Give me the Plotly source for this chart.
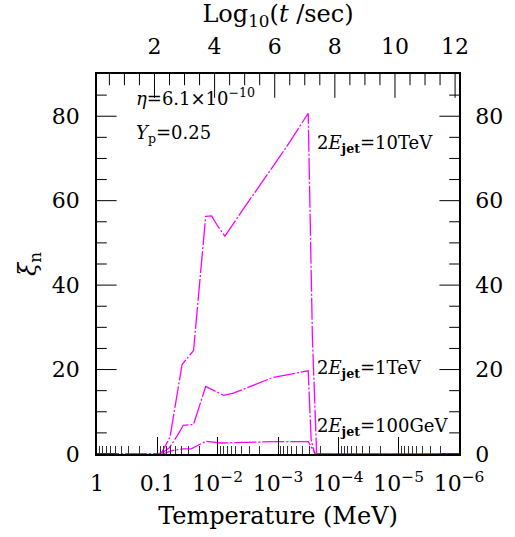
import plotly.graph_objects as go

# Temperature grid (MeV) and xi_n for each jet energy
T_10TeV = [1, 0.0955, 0.0832, 0.0617, 0.0389, 0.0251, 0.0158, 0.0126, 0.0100,
           0.00759, 0.00398, 0.00186, 0.000741, 0.000316, 0.000269, 0.000229, 1e-6]
xi_10TeV = [0, 0, 0.5, 4.0, 21.2, 24.5, 56.3, 56.4, 54.0,
            51.6, 57.5, 64.4, 72.5, 80.7, 27.7, 0, 0]

T_1TeV = [1, 0.0891, 0.0631, 0.0468, 0.0372, 0.0251, 0.0158, 0.00794, 0.00550,
          0.00257, 0.00123, 0.000316, 0.000282, 0.000245, 1e-6]
xi_1TeV = [0, 0, 1.5, 4.3, 6.8, 7.0, 16.0, 13.9, 14.4,
           16.3, 18.1, 19.7, 3.3, 0, 0]

T_100GeV = [1, 0.0832, 0.0550, 0.0372, 0.0275, 0.0158, 0.00891, 0.00100,
            0.000316, 0.000240, 1e-6]
xi_100GeV = [0, 0, 0.86, 1.2, 1.2, 3.0, 2.6, 2.95,
             2.95, 0, 0]

# Bottom axis: temperature decades
T_range = [0, -6]
T_ticks = [1, 0.1, 1e-2, 1e-3, 1e-4, 1e-5, 1e-6]
T_ticktext = ["1", "0.1", "10<sup>−2</sup>", "10<sup>−3</sup>",
              "10<sup>−4</sup>", "10<sup>−5</sup>", "10<sup>−6</sup>"]
T_minor = [k * 10.0 ** (-d) for d in range(1, 7) for k in range(2, 10)]

# Top axis: log10(t/sec)
logt_range = [0.088, 12.13]
logt_ticks = [2, 4, 6, 8, 10, 12]
logt_minor = [0.5 * k for k in range(1, 25) if k % 4 != 0]

# Vertical axis
y_range = [0, 90]
y_ticks = [0, 20, 40, 60, 80]
y_minor = [5 * k for k in range(1, 18) if k % 4 != 0]

MAGENTA = "#ff00ff"
FONT = "DejaVu Serif"
DASH = "22px,2px,2px,2px"

fig = go.Figure()
for T, xi in [(T_10TeV, xi_10TeV), (T_1TeV, xi_1TeV), (T_100GeV, xi_100GeV)]:
    fig.add_trace(go.Scatter(x=T, y=xi, mode="lines",
                             line=dict(color=MAGENTA, width=1.3, dash=DASH),
                             showlegend=False, hoverinfo="skip"))


def edge_ticks(x, y, symbol, length, xaxis="x", yaxis="y"):
    """Tick marks as line markers centred on the frame; the plot-area clip
    keeps only the inward half, so the marker size is twice the tick length."""
    fig.add_trace(go.Scatter(
        x=x, y=y, xaxis=xaxis, yaxis=yaxis, mode="markers", cliponaxis=True,
        marker=dict(symbol=symbol, size=2 * length, color="black",
                    line=dict(width=1, color="black")),
        showlegend=False, hoverinfo="skip"))


# left / right frame ticks for xi_n
for vals, length in [(y_ticks, 14), (y_minor, 7)]:
    edge_ticks([T_ticks[0]] * len(vals), vals, "line-ew", length)
    edge_ticks([T_ticks[-1]] * len(vals), vals, "line-ew", length)
# top frame ticks for log10(t/sec)
for vals, length in [(logt_ticks, 17), (logt_minor, 8)]:
    edge_ticks(vals, [y_range[1]] * len(vals), "line-ns", length, xaxis="x2")

tickfont = dict(family=FONT, size=22, color="black")
titlefont = dict(family=FONT, size=24, color="black")
LINE = dict(showline=True, linecolor="black", linewidth=1.5)
BARE = dict(showgrid=False, zeroline=False)
# labelled axes carry transparent outward ticks that only space the labels
SPACER = dict(ticks="outside", tickcolor="rgba(0,0,0,0)", tickwidth=1)

fig.update_layout(
    width=515, height=537,
    margin=dict(l=97, r=48, t=70, b=80),
    paper_bgcolor="white", plot_bgcolor="white",
    font=dict(family=FONT, color="black"),
    showlegend=False,
    xaxis=dict(type="log", range=T_range, tickvals=T_ticks, ticktext=T_ticktext,
               ticklen=9, tickfont=tickfont, **SPACER, **LINE, **BARE,
               title=dict(text="Temperature (MeV)", font=titlefont, standoff=12)),
    xaxis2=dict(range=logt_range, overlaying="x", side="top", anchor="y",
                tickvals=logt_ticks, ticklen=9, tickfont=tickfont,
                **SPACER, **LINE, **BARE,
                title=dict(text="Log<sub>10</sub>(<i>t</i> /sec)",
                           font=titlefont, standoff=6)),
    yaxis=dict(range=y_range, tickvals=y_ticks, ticklen=11, tickfont=tickfont,
               **SPACER, **LINE, **BARE,
               title=dict(text="<i>ξ</i><sub>n</sub>", font=titlefont, standoff=8)),
    yaxis2=dict(range=y_range, overlaying="y", side="right", anchor="x",
                tickvals=y_ticks, ticklen=10, tickfont=tickfont,
                **SPACER, **LINE, **BARE),
    # inward ticks along the temperature axis
    xaxis3=dict(type="log", range=T_range, overlaying="x", side="bottom",
                anchor="y", tickvals=T_ticks, ticks="inside", ticklen=17,
                tickwidth=1, tickcolor="black", showticklabels=False,
                showline=False, **BARE),
    xaxis4=dict(type="log", range=T_range, overlaying="x", side="bottom",
                anchor="y", tickvals=T_minor, ticks="inside", ticklen=8,
                tickwidth=1, tickcolor="#333", showticklabels=False,
                showline=False, **BARE),
)

# invisible carrier traces so the overlay axes get drawn
for xa, ya in [("x3", "y"), ("x4", "y"), ("x", "y2")]:
    fig.add_trace(go.Scatter(x=[1], y=[0], xaxis=xa, yaxis=ya, mode="markers",
                             marker=dict(opacity=0), showlegend=False,
                             hoverinfo="skip"))

ann_font = dict(family=FONT, size=18, color="black")
annotations = [
    (0.103, 0.94, "<i>η</i>=6.1×10<sup>−10</sup>"),
    (0.103, 0.842, "<i>Y</i><sub>p</sub>=0.25"),
    (0.603, 0.815, "2<i>E</i><sub><b>jet</b></sub>=10TeV"),
    (0.603, 0.225, "2<i>E</i><sub><b>jet</b></sub>=1TeV"),
    (0.603, 0.07, "2<i>E</i><sub><b>jet</b></sub>=100GeV"),
]
for x, y, txt in annotations:
    fig.add_annotation(x=x, y=y, xref="paper", yref="paper", text=txt,
                       showarrow=False, xanchor="left", yanchor="middle",
                       font=ann_font)

fig.write_html("out.html")
